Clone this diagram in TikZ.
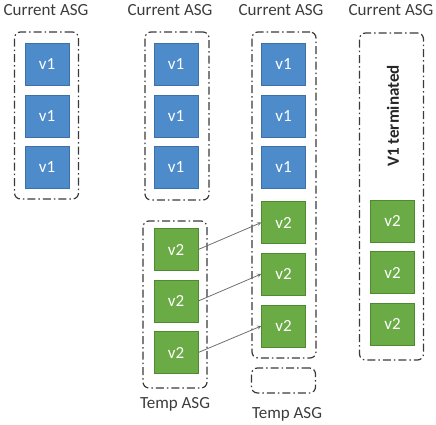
\documentclass[tikz,border=0pt]{standalone}
\usepackage{fontspec}
\setmainfont{Carlito}
\usepackage{xcolor}
\usetikzlibrary{arrows,calc,shapes}
\definecolor{vblue}{HTML}{4D8BCA}
\definecolor{vblueline}{HTML}{3D70A6}
\definecolor{vgreen}{HTML}{6AAB45}
\definecolor{vgreenline}{HTML}{4F8A31}
\definecolor{asgline}{HTML}{3A3A3A}
\definecolor{labeltext}{HTML}{3C3C3C}
\definecolor{moveline}{HTML}{6E6E6E}
\tikzset{every scope/.style={>=stealth}}
\tikzstyle{asg_group} =
  [ rectangle
  , rounded corners=6pt
  , draw=asgline
  , dash pattern=on 8pt off 3pt on 1.5pt off 3pt
  , line width=1.2pt
  , inner sep=0pt
  , minimum width=64pt
  ]
\tikzstyle{v1_instance} =
  [ rectangle
  , fill=vblue
  , draw=vblueline
  , line width=0.5pt
  , text=white
  , minimum width=44pt
  , minimum height=42pt
  , inner sep=0pt
  , font=\fontsize{17}{20}\selectfont
  ]
\tikzstyle{v2_instance} =
  [ rectangle
  , fill=vgreen
  , draw=vgreenline
  , line width=0.5pt
  , text=white
  , minimum width=44pt
  , minimum height=42pt
  , inner sep=0pt
  , font=\fontsize{17}{20}\selectfont
  ]
\tikzstyle{asg_label} =
  [ text=labeltext
  , inner sep=0pt
  , font=\fontsize{17}{20}\selectfont
  ]
\tikzstyle{move_arrow} =
  [ ->
  , draw=moveline
  , line width=0.8pt
  ]
\def\CurrentASG{Current ASG}
\def\TempASG{Temp ASG}
\def\VOne{v1}
\def\VTwo{v2}
\def\VOneTerminated{\textbf{V1 terminated}}

\begin{document}
\begin{tikzpicture}[x=1pt,y=-1pt]
    \useasboundingbox (0,0) rectangle (436,424);

    % column 1: current ASG only
    \node[asg_label]                                   (title_A)     at ( 46,   10)  {\CurrentASG};
    \node[asg_group, minimum height=167pt]             (CurrentASG_A) at ( 46.5, 115.5) {};
    \node[v1_instance]                                 (A_v1_1)      at ( 47,  64.5) {\VOne};
    \node[v1_instance]                                 (A_v1_2)      at ( 47, 116)   {\VOne};
    \node[v1_instance]                                 (A_v1_3)      at ( 47, 167)   {\VOne};

    % column 2: current ASG + temp ASG
    \node[asg_label]                                   (title_B)     at (170,   10)  {\CurrentASG};
    \node[asg_group, minimum height=168pt]             (CurrentASG_B) at (177, 116)   {};
    \node[v1_instance]                                 (B_v1_1)      at (176,  64.5) {\VOne};
    \node[v1_instance]                                 (B_v1_2)      at (176, 116)   {\VOne};
    \node[v1_instance]                                 (B_v1_3)      at (176, 167)   {\VOne};
    \node[asg_group, minimum height=167pt]             (TempASG_B)   at (175, 304.5) {};
    \node[v2_instance]                                 (B_v2_1)      at (176, 249.5) {\VTwo};
    \node[v2_instance]                                 (B_v2_2)      at (176, 301)   {\VTwo};
    \node[v2_instance]                                 (B_v2_3)      at (176, 352.5) {\VTwo};
    \node[asg_label]                                   (temp_B)      at (175, 404)   {\TempASG};

    % column 3: v2 instances moved into current ASG
    \node[asg_label]                                   (title_C)     at (281,   10)  {\CurrentASG};
    \node[asg_group, minimum height=326pt]             (CurrentASG_C) at (284, 195)   {};
    \node[v1_instance]                                 (C_v1_1)      at (283.5, 64.5) {\VOne};
    \node[v1_instance]                                 (C_v1_2)      at (283.5, 116)  {\VOne};
    \node[v1_instance]                                 (C_v1_3)      at (283.5, 167)  {\VOne};
    \node[v2_instance]                                 (C_v2_1)      at (283.5, 222.5) {\VTwo};
    \node[v2_instance]                                 (C_v2_2)      at (283.5, 274)   {\VTwo};
    \node[v2_instance]                                 (C_v2_3)      at (283.5, 326)   {\VTwo};
    \node[asg_group, minimum height=25pt]              (TempASG_C)   at (283.5, 380.5) {};
    \node[asg_label]                                   (temp_C)      at (287, 414)   {\TempASG};

    % column 4: v1 gone
    \node[asg_label]                                   (title_D)     at (391,   10)  {\CurrentASG};
    \node[asg_group, minimum height=327pt]             (CurrentASG_D) at (391.5, 196.5) {};
    \node[asg_label, rotate=90, text=black!85]         (terminated)  at (393, 116)   {\VOneTerminated};
    \node[v2_instance]                                 (D_v2_1)      at (392.5, 221)   {\VTwo};
    \node[v2_instance]                                 (D_v2_2)      at (392.5, 272.5) {\VTwo};
    \node[v2_instance]                                 (D_v2_3)      at (392.5, 324)   {\VTwo};

    \draw[move_arrow] (B_v2_1.east) -- (C_v2_1.west);
    \draw[move_arrow] (B_v2_2.east) -- (C_v2_2.west);
    \draw[move_arrow] (B_v2_3.east) -- (C_v2_3.west);
\end{tikzpicture}
\end{document}
